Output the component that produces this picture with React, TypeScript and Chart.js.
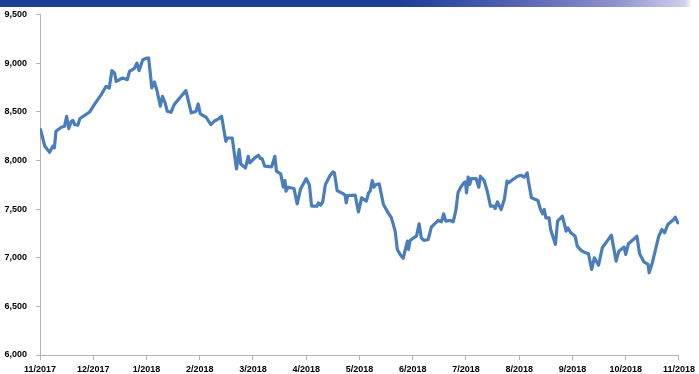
import React, { useEffect, useRef } from "react";
import { Chart, registerables } from "chart.js";

Chart.register(...registerables);

const monthLabels = [
  "11/2017", "12/2017", "1/2018", "2/2018", "3/2018", "4/2018", "5/2018",
  "6/2018", "7/2018", "8/2018", "9/2018", "10/2018", "11/2018",
];

const yTicks = [6000, 6500, 7000, 7500, 8000, 8500, 9000, 9500];

// position in months since 11/2017
const monthPos = [
  0.01, 0.09, 0.18, 0.24, 0.27, 0.30, 0.40, 0.46, 0.50, 0.54, 0.59, 0.62, 0.65, 0.71, 0.75, 0.84, 0.93,
  1.02, 1.15, 1.24, 1.30, 1.35, 1.40, 1.43, 1.55, 1.64, 1.68, 1.77, 1.82, 1.86, 1.93,
  2.01, 2.04, 2.10, 2.15, 2.20, 2.26, 2.30, 2.35, 2.39, 2.46, 2.52, 2.74, 2.84, 2.93, 2.97,
  3.01, 3.12, 3.21, 3.27, 3.36, 3.41, 3.49, 3.52, 3.61, 3.69, 3.74, 3.77, 3.86, 3.91, 3.94,
  4.02, 4.10, 4.14, 4.17, 4.22, 4.35, 4.41, 4.44, 4.52, 4.57, 4.60, 4.62, 4.66, 4.77, 4.83, 4.89,
  5.00, 5.06, 5.10, 5.20, 5.23, 5.27, 5.31, 5.36, 5.45, 5.50, 5.53, 5.58, 5.70, 5.73, 5.75, 5.78, 5.92, 5.98,
  6.04, 6.13, 6.17, 6.20, 6.24, 6.27, 6.31, 6.37, 6.45, 6.54, 6.60, 6.67, 6.71, 6.77, 6.82, 6.90, 6.92, 6.95,
  7.00, 7.07, 7.12, 7.16, 7.21, 7.29, 7.35, 7.41, 7.48, 7.54, 7.58, 7.62, 7.70, 7.76, 7.81, 7.85, 7.90, 7.96, 7.99,
  8.01, 8.04, 8.07, 8.10, 8.19, 8.24, 8.27, 8.34, 8.40, 8.46, 8.52, 8.55, 8.59, 8.66, 8.72, 8.77, 8.80, 8.88, 8.97,
  9.03, 9.10, 9.15, 9.17, 9.23, 9.35, 9.40, 9.44, 9.47, 9.50, 9.56, 9.59, 9.68, 9.72, 9.81, 9.85, 9.88, 9.91, 9.97,
  10.05, 10.09, 10.16, 10.22, 10.30, 10.36, 10.41, 10.49, 10.56, 10.65, 10.73, 10.82, 10.87, 10.97,
  11.00, 11.05, 11.18, 11.21, 11.26, 11.34, 11.42, 11.44, 11.50, 11.56, 11.62, 11.68, 11.73, 11.79, 11.90, 11.93, 11.98,
];

const indexValues = [
  8317, 8145, 8084, 8145, 8128, 8299, 8340, 8350, 8453, 8327, 8402, 8409, 8368, 8361, 8430, 8463, 8497,
  8573, 8676, 8761, 8744, 8922, 8898, 8812, 8846, 8829, 8915, 8943, 9000, 8922, 9035,
  9052, 9052, 8744, 8805, 8710, 8556, 8658, 8590, 8504, 8494, 8573, 8717, 8487, 8504, 8580,
  8477, 8443, 8368, 8402, 8430, 8453, 8196, 8230, 8230, 7912, 8111, 7963, 7922, 8042, 7974,
  8019, 8053, 8019, 8019, 7940, 7933, 8042, 7889, 7861, 7724, 7793, 7683, 7724, 7711, 7553, 7700,
  7813, 7745, 7529, 7529, 7563, 7540, 7574, 7752, 7847, 7881, 7871, 7690, 7655, 7642, 7563, 7639, 7642, 7471,
  7615, 7581, 7666, 7683, 7793, 7724, 7752, 7758, 7546, 7461, 7409, 7273, 7085, 7027, 6993, 7170, 7085, 7177,
  7198, 7221, 7348, 7204, 7177, 7187, 7314, 7348, 7383, 7369, 7451, 7376, 7383, 7369, 7485, 7666, 7724, 7769, 7779,
  7666, 7827, 7752, 7813, 7813, 7724, 7837, 7793, 7683, 7529, 7529, 7505, 7574, 7495, 7598, 7786, 7769, 7803, 7837,
  7847, 7827, 7871, 7793, 7615, 7588, 7495, 7451, 7495, 7409, 7409, 7290, 7136, 7376, 7427, 7341, 7273, 7307, 7256,
  7221, 7119, 7075, 7057, 7040, 6880, 6999, 6924, 7102, 7170, 7232, 6965, 7067, 7109,
  7033, 7143, 7204, 7221, 7040, 6958, 6931, 6845, 6948, 7085, 7221, 7290, 7256, 7341, 7393, 7417, 7358,
];

const FONT = "'Liberation Sans', Arial, sans-serif";
const AXIS_GRAY = "#b4b4b4";

export default function App() {
  const canvasRef = useRef<HTMLCanvasElement | null>(null);

  useEffect(() => {
    document.body.style.margin = "0";
    const canvas = canvasRef.current;
    if (!canvas) return;
    const points = monthPos.map((x, i) => ({ x, y: indexValues[i] }));
    const chart = new Chart(canvas, {
      type: "line",
      data: {
        datasets: [
          {
            data: points,
            borderColor: "#4a7ebb",
            borderWidth: 3.2,
            pointRadius: 0,
            tension: 0,
            borderJoinStyle: "round",
            borderCapStyle: "round",
            fill: false,
          },
        ],
      },
      options: {
        animation: false,
        responsive: false,
        maintainAspectRatio: false,
        events: [],
        layout: { padding: { top: 13, right: 0, bottom: 0, left: 0 } },
        plugins: { legend: { display: false }, tooltip: { enabled: false }, title: { display: false } },
        scales: {
          x: {
            type: "linear",
            min: 0,
            max: 12,
            afterBuildTicks: (scale: any) => {
              scale.ticks = monthLabels.map((_, i) => ({ value: i }));
            },
            afterFit: (scale: any) => {
              scale.height = 19;
            },
            ticks: {
              autoSkip: false,
              maxRotation: 0,
              padding: 4,
              color: "#000",
              font: { family: FONT, size: 9, weight: "bold" },
              callback: (v: any) => monthLabels[Math.round(Number(v))] ?? "",
            },
            grid: { drawOnChartArea: false, drawTicks: true, tickLength: 5, color: AXIS_GRAY },
            border: { display: true, color: AXIS_GRAY, width: 1 },
          },
          y: {
            type: "linear",
            min: 6000,
            max: 9500,
            afterBuildTicks: (scale: any) => {
              scale.ticks = yTicks.map((v) => ({ value: v }));
            },
            afterFit: (scale: any) => {
              scale.width = 40;
            },
            ticks: {
              padding: 9,
              color: "#000",
              font: { family: FONT, size: 9, weight: "bold" },
              callback: (v: any) => Number(v).toLocaleString("en-US"),
            },
            grid: { drawOnChartArea: false, drawTicks: true, tickLength: 4, color: AXIS_GRAY },
            border: { display: true, color: AXIS_GRAY, width: 1 },
          },
        },
      },
    });
    return () => chart.destroy();
  }, []);

  return (
    <div style={{ position: "relative", width: 699, height: 374, background: "#fff", overflow: "hidden" }}>
      <div
        style={{
          position: "absolute",
          left: 0,
          top: 0,
          width: 699,
          height: 7,
          background:
            "linear-gradient(to right, #1d3e95 0%, #1d3e95 57%, #2b48a0 62%, #5a66b4 75%, #8e92cc 88%, #cfd0ec 98%, #ffffff 99%)",
        }}
      />
      <canvas ref={canvasRef} width={699} height={374} style={{ display: "block" }} />
    </div>
  );
}
